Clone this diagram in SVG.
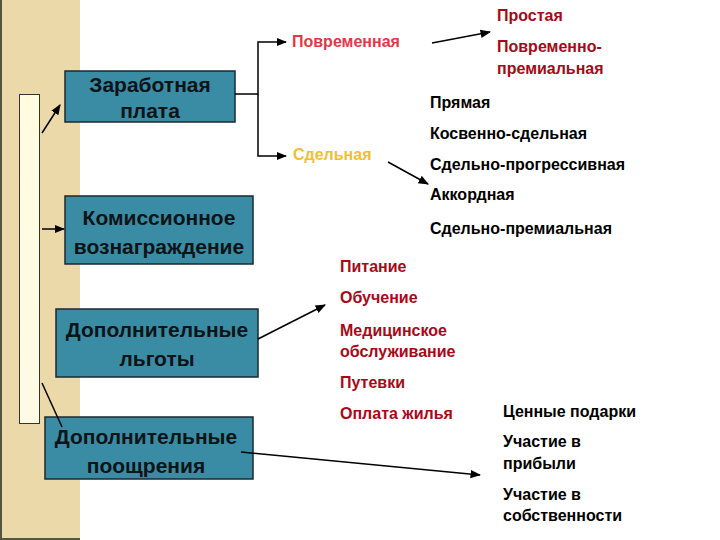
<svg xmlns="http://www.w3.org/2000/svg" width="720" height="540" viewBox="0 0 720 540">
<defs>
<marker id="ah" viewBox="0 0 10 10" refX="9" refY="5" markerWidth="7" markerHeight="7" orient="auto"><path d="M0,1 L10,5 L0,9 z" fill="#000"/></marker>
<linearGradient id="col" x1="0" y1="0" x2="0" y2="1"><stop offset="0" stop-color="#fffce0"/><stop offset="1" stop-color="#fdfbe4"/></linearGradient>
</defs>
<style>
.box{fill:#3a8ca4;stroke:#1a2a30;stroke-width:1.5}
.bt{font-family:"Liberation Sans",Arial,sans-serif;font-weight:bold;font-size:21px;fill:#0c1418;text-anchor:middle}
.t{font-family:"Liberation Sans",Arial,sans-serif;font-weight:bold;font-size:16px}
.red{fill:#a80818}.blk{fill:#000}
.c{stroke:#000;stroke-width:1.5;fill:none}
</style>
<rect x="0" y="0" width="720" height="540" fill="#fff"/>
<rect x="0" y="0" width="80" height="539" fill="#ecd9a9"/>
<line x1="1" y1="0" x2="1" y2="539" stroke="#554" stroke-width="2"/>
<line x1="0" y1="539" x2="80" y2="539" stroke="#554" stroke-width="2"/>
<rect x="19.5" y="94.5" width="20" height="329" fill="url(#col)" stroke="#333" stroke-width="1"/>
<g id="n1"><rect class="box" x="65" y="71" width="170" height="51"/><text class="bt" x="150" y="92">Заработная</text><text class="bt" x="150" y="118">плата</text></g>
<g id="n2"><rect class="box" x="65" y="196" width="188" height="68"/><text class="bt" x="159" y="225">Комиссионное</text><text class="bt" x="159" y="254">вознаграждение</text></g>
<g id="n3"><rect class="box" x="56" y="309" width="202" height="68"/><text class="bt" x="157" y="337">Дополнительные</text><text class="bt" x="157" y="366">льготы</text></g>
<g id="n4"><rect class="box" x="45" y="417" width="208" height="62"/><text class="bt" x="146" y="444">Дополнительные</text><text class="bt" x="146" y="473">поощрения</text></g>
<g id="connectors">
<path class="c" d="M235,94 H258 V42 H286" marker-end="url(#ah)"/>
<path class="c" d="M258,94 V156 H286" marker-end="url(#ah)"/>
<line class="c" x1="432" y1="43" x2="490" y2="32" marker-end="url(#ah)"/>
<line class="c" x1="388" y1="162" x2="428" y2="184" marker-end="url(#ah)"/>
<line class="c" x1="42" y1="133" x2="60" y2="105" marker-end="url(#ah)"/>
<line class="c" x1="42" y1="229" x2="64" y2="229" marker-end="url(#ah)"/>
<line class="c" x1="42" y1="383" x2="62" y2="427"/>
<line class="c" x1="258" y1="339" x2="325" y2="305" marker-end="url(#ah)"/>
<line class="c" x1="241" y1="452" x2="480" y2="475" marker-end="url(#ah)"/>
</g>
<g id="labels">
<text class="t" x="292" y="47" fill="#e23848">Повременная</text>
<text class="t" x="293" y="160" fill="#f0c030" font-weight="normal">Сдельная</text>
<text class="t red" x="497" y="21">Простая</text>
<text class="t red" x="497" y="52">Повременно-</text>
<text class="t red" x="497" y="74">премиальная</text>
<text class="t blk" x="430" y="108">Прямая</text>
<text class="t blk" x="430" y="139">Косвенно-сдельная</text>
<text class="t blk" x="430" y="170">Сдельно-прогрессивная</text>
<text class="t blk" x="430" y="200">Аккордная</text>
<text class="t blk" x="430" y="234">Сдельно-премиальная</text>
<text class="t red" x="340" y="272">Питание</text>
<text class="t red" x="340" y="303">Обучение</text>
<text class="t red" x="340" y="336">Медицинское</text>
<text class="t red" x="340" y="357">обслуживание</text>
<text class="t red" x="340" y="388">Путевки</text>
<text class="t red" x="340" y="419">Оплата жилья</text>
<text class="t blk" x="503" y="417">Ценные подарки</text>
<text class="t blk" x="503" y="447">Участие в</text>
<text class="t blk" x="503" y="469">прибыли</text>
<text class="t blk" x="503" y="500">Участие в</text>
<text class="t blk" x="503" y="521">собственности</text>
</g>
</svg>
